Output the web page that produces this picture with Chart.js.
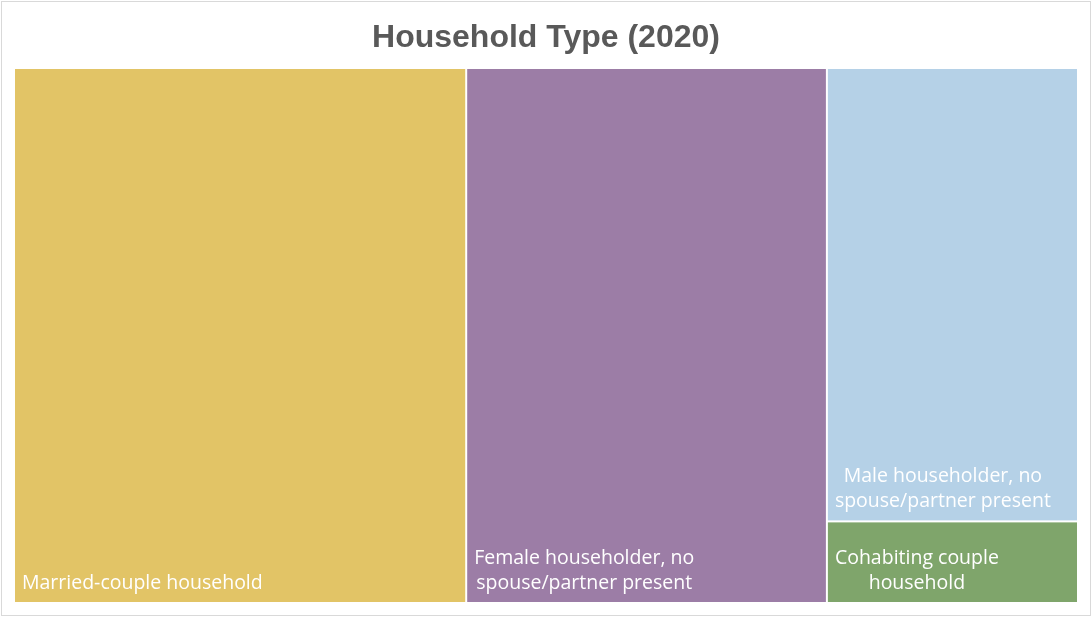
<!DOCTYPE html>
<html>

<head>
    <title>Household Type (2020)</title>
    <script src="https://cdn.jsdelivr.net/npm/chart.js"></script>
    <style>
        body { margin: 0; background: #fff; }
        #wrap { width: 1092px; height: 617px; }
    </style>
</head>

<body>
    <div id="wrap"><canvas id="myChart"></canvas></div>

    <script>
        // share of households (percent)
        const categories = [
            'Married-couple household',
            'Female householder, no spouse/partner present',
            'Male householder, no spouse/partner present',
            'Cohabiting couple household'
        ];
        const shares = [42.5, 33.9, 20.0, 3.6];
        const cellColors = ['#E2C466', '#9C7DA6', '#B5D1E7', '#7FA56B'];

        // squarified layout, done in the plot's own proportions
        function squarify(values, W, H) {
            const total = values.reduce((a, b) => a + b, 0);
            const items = values.map((v, i) => ({ i, a: v / total * W * H }))
                .sort((p, q) => q.a - p.a);
            let box = { x: 0, y: 0, w: W, h: H };
            const out = [];

            const worst = (row, side) => {
                const s = row.reduce((a, r) => a + r.a, 0);
                let m = 0;
                row.forEach(r => {
                    m = Math.max(m, side * side * r.a / (s * s), s * s / (side * side * r.a));
                });
                return m;
            };
            const place = (row) => {
                const s = row.reduce((a, r) => a + r.a, 0);
                if (box.w >= box.h) {
                    const cw = s / box.h;
                    let y = box.y;
                    row.forEach(r => {
                        const h = r.a / cw;
                        out[r.i] = { x: box.x, y, w: cw, h };
                        y += h;
                    });
                    box.x += cw; box.w -= cw;
                } else {
                    const rh = s / box.w;
                    let x = box.x;
                    row.forEach(r => {
                        const w = r.a / rh;
                        out[r.i] = { x, y: box.y, w, h: rh };
                        x += w;
                    });
                    box.y += rh; box.h -= rh;
                }
            };

            let row = [];
            items.forEach(it => {
                const side = Math.min(box.w, box.h);
                if (row.length === 0 || worst(row.concat([it]), side) <= worst(row, side)) {
                    row.push(it);
                } else {
                    place(row);
                    row = [it];
                }
            });
            if (row.length) place(row);

            // back to 0..1 data units
            return out.map(r => ({ x0: r.x / W, x1: (r.x + r.w) / W, y0: r.y / H, y1: (r.y + r.h) / H }));
        }

        function wrapText(ctx, text, maxW) {
            const words = text.split(' ');
            const lines = [];
            let cur = '';
            words.forEach(w => {
                const t = cur ? cur + ' ' + w : w;
                if (ctx.measureText(t).width > maxW && cur) {
                    lines.push(cur);
                    cur = w;
                } else {
                    cur = t;
                }
            });
            if (cur) lines.push(cur);
            return lines;
        }

        const treemapPlugin = {
            id: 'treemap',
            beforeDraw(chart) {
                const ctx = chart.ctx;
                ctx.save();
                ctx.strokeStyle = '#D9D9D9';
                ctx.lineWidth = 1;
                ctx.strokeRect(1.5, 1.5, chart.width - 3, chart.height - 3);
                ctx.restore();
            },
            afterDatasetsDraw(chart) {
                const { ctx, chartArea, scales } = chart;
                const cells = squarify(shares, chartArea.width, chartArea.height);
                ctx.save();
                cells.forEach((c, i) => {
                    const left = scales.x.getPixelForValue(c.x0) + 1;
                    const right = scales.x.getPixelForValue(c.x1) - 1;
                    const top = scales.y.getPixelForValue(c.y0) + 1;
                    const bottom = scales.y.getPixelForValue(c.y1) - 1;
                    ctx.fillStyle = cellColors[i];
                    ctx.fillRect(left, top, right - left, bottom - top);

                    ctx.font = '19.5px "Open Sans", sans-serif';
                    ctx.fillStyle = '#FFFFFF';
                    ctx.textBaseline = 'alphabetic';
                    ctx.textAlign = 'center';
                    const lines = wrapText(ctx, categories[i], Math.min(right - left - 16, 300));
                    const blockW = Math.max(...lines.map(l => ctx.measureText(l).width));
                    const cx = left + 7 + blockW / 2;
                    lines.forEach((l, k) => {
                        const base = bottom - 13 - (lines.length - 1 - k) * 25;
                        ctx.fillText(l, cx, base);
                    });
                });
                ctx.restore();
            }
        };

        const chart = new Chart('myChart', {
            type: 'scatter',
            data: { datasets: [{ data: [] }] },
            options: {
                responsive: true,
                maintainAspectRatio: false,
                animation: false,
                layout: { padding: { left: 14, right: 14, top: 0, bottom: 14 } },
                scales: {
                    x: { type: 'linear', min: 0, max: 1, display: false },
                    y: { type: 'linear', min: 0, max: 1, reverse: true, display: false }
                },
                plugins: {
                    legend: { display: false },
                    tooltip: { enabled: false },
                    title: {
                        display: true,
                        text: 'Household Type (2020)',
                        color: '#595959',
                        font: { family: '"Liberation Sans", Arial, sans-serif', size: 32, weight: 'bold', lineHeight: 1.2 },
                        padding: { top: 19, bottom: 10.6 }
                    }
                }
            },
            plugins: [treemapPlugin]
        });
    </script>
</body>

</html>
